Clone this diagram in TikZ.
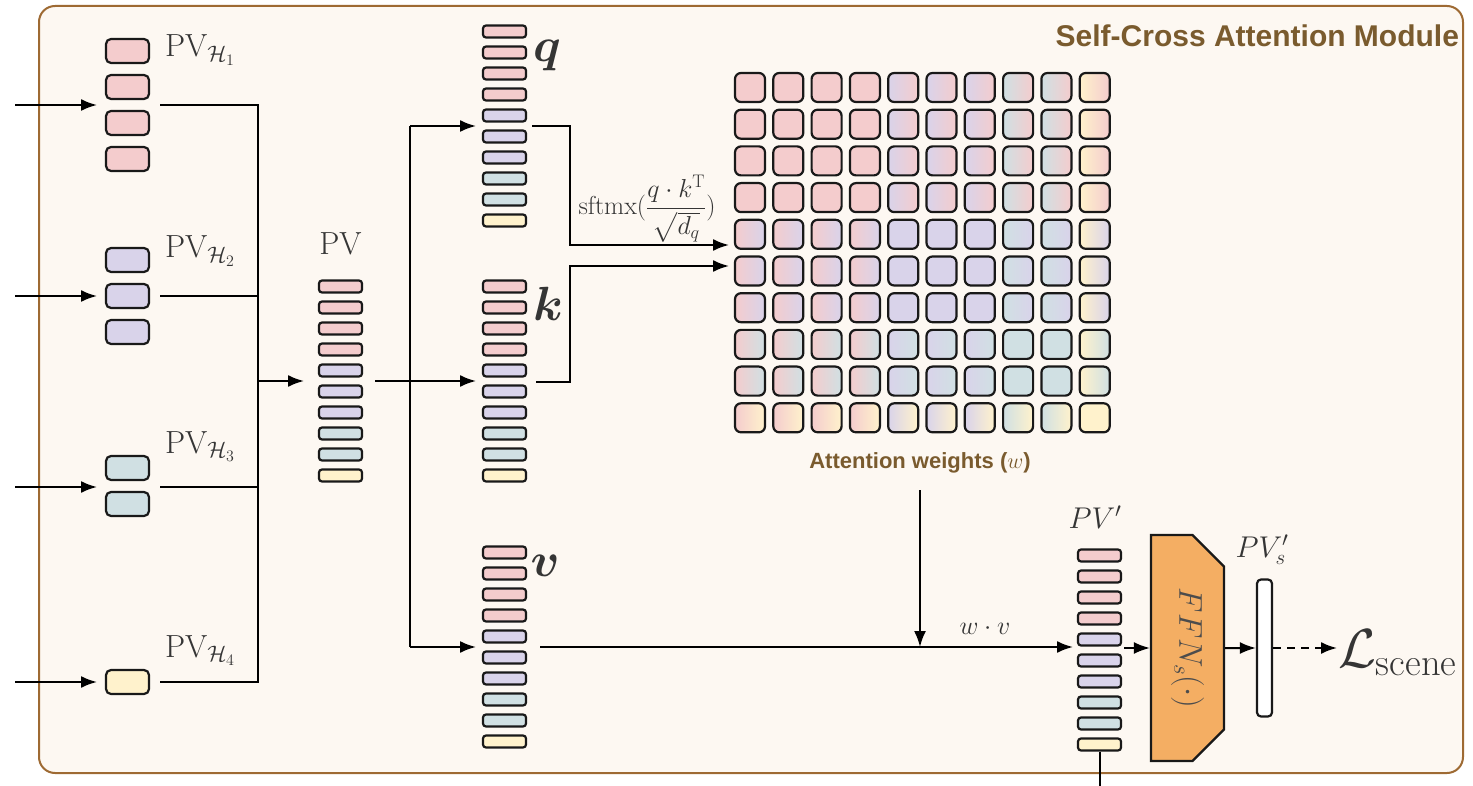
\RequirePackage{fix-cm}
\documentclass[tikz,border=0pt]{standalone}
\usepackage{amsmath,bm}
\usepackage{fontspec}
\setsansfont{Liberation Sans}
\usetikzlibrary{arrows.meta,shapes.misc}

\definecolor{hpink}{HTML}{F4CCCD}
\definecolor{hpurple}{HTML}{D9D3EA}
\definecolor{hteal}{HTML}{D0E0E3}
\definecolor{hyellow}{HTML}{FFF2CC}
\definecolor{modfill}{HTML}{FDF8F2}
\definecolor{modline}{HTML}{9E6A33}
\definecolor{modtext}{HTML}{7A5B2E}
\definecolor{ffnfill}{HTML}{F4AE63}
\definecolor{inkgray}{HTML}{353535}

\newcommand{\tokcolors}{hpink,hpink,hpink,hpink,hpurple,hpurple,hpurple,hteal,hteal,hyellow}

\begin{document}
\begin{tikzpicture}[x=1pt, y=-1pt, line width=2pt, >={Latex[length=16pt,width=12pt]},
    hbox/.style={draw=black!90, line width=2.2pt, rounded corners=5pt, minimum width=43pt, minimum height=24pt, inner sep=0pt},
    tok/.style={draw=black!90, line width=2.2pt, rounded corners=3pt, minimum width=43pt, minimum height=12pt, inner sep=0pt},
    cell/.style={draw=black!90, line width=2.2pt, rounded corners=6pt, minimum width=30pt, minimum height=29pt, inner sep=0pt},
    lbl/.style={text=inkgray, inner sep=0pt, font=\fontsize{32}{38}\selectfont},
    biglbl/.style={text=inkgray, inner sep=0pt, font=\fontsize{48}{56}\selectfont},
    modlbl/.style={text=modtext, inner sep=0pt, font=\sffamily\bfseries}]
\useasboundingbox (0,0) rectangle (1473,786);

% module frame
\draw[draw=modline, fill=modfill, line width=2pt, rounded corners=16pt] (39,6) rectangle (1463,773);
\node[modlbl, anchor=east, font=\sffamily\bfseries\fontsize{30}{34}\selectfont] (title) at (1460,36) {Self-Cross Attention Module};

% input heads
\foreach \i in {1,...,4}
  \node[hbox, fill=hpink] (h1-\i) at (127.5,{51+(\i-1)*36}) {};
\foreach \i in {1,2,3}
  \node[hbox, fill=hpurple] (h2-\i) at (127.5,{260+(\i-1)*36}) {};
\foreach \i in {1,2}
  \node[hbox, fill=hteal] (h3-\i) at (127.5,{468+(\i-1)*36}) {};
\node[hbox, fill=hyellow] (h4-1) at (127.5,682) {};

\node[lbl, anchor=base west] (h1-lbl) at (164,57) {$\mathrm{PV}_{\mathcal{H}_1}$};
\node[lbl, anchor=base west] (h2-lbl) at (164,258) {$\mathrm{PV}_{\mathcal{H}_2}$};
\node[lbl, anchor=base west] (h3-lbl) at (164,453) {$\mathrm{PV}_{\mathcal{H}_3}$};
\node[lbl, anchor=base west] (h4-lbl) at (164,657) {$\mathrm{PV}_{\mathcal{H}_4}$};

\coordinate (h1-src) at (15,105);  \coordinate (h1-in) at (97,105);  \coordinate (h1-out) at (160,105);
\coordinate (h2-src) at (15,296);  \coordinate (h2-in) at (97,296);  \coordinate (h2-out) at (160,296);
\coordinate (h3-src) at (15,487);  \coordinate (h3-in) at (97,487);  \coordinate (h3-out) at (160,487);
\coordinate (h4-src) at (15,682);  \coordinate (h4-in) at (97,682);  \coordinate (h4-out) at (160,682);
\coordinate (bus-top) at (258,105);
\coordinate (bus-bot) at (258,682);

\draw[->] (h1-src) -- (h1-in);
\draw[->] (h2-src) -- (h2-in);
\draw[->] (h3-src) -- (h3-in);
\draw[->] (h4-src) -- (h4-in);
\draw (h1-out) -- (bus-top) -- (bus-bot) -- (h4-out);
\draw (h2-out) -- (h2-out -| bus-top);
\draw (h3-out) -- (h3-out -| bus-top);

% concatenated PV
\foreach \c [count=\i] in \tokcolors
  \node[tok, fill=\c] (pv-\i) at (340.5,{381+(\i-5.5)*21}) {};
\node[lbl, anchor=base] (pv-lbl) at (340.5,255) {$\mathrm{PV}$};
\coordinate (pv-in) at (304,381);
\coordinate (pv-out) at (375,381);
\draw[->] (bus-top |- pv-in) -- (pv-in);

% q, k, v
\foreach \c [count=\i] in \tokcolors {
  \node[tok, fill=\c] (q-\i) at (504.5,{126+(\i-5.5)*21}) {};
  \node[tok, fill=\c] (k-\i) at (504.5,{381+(\i-5.5)*21}) {};
  \node[tok, fill=\c] (v-\i) at (504.5,{647+(\i-5.5)*21}) {};
}
\node[biglbl] (q-lbl) at (547,56) {$\bm{q}$};
\node[biglbl] (k-lbl) at (548,304) {$\bm{k}$};
\node[biglbl] (v-lbl) at (545,566) {$\bm{v}$};

\coordinate (split-top) at (410,126);
\coordinate (split-bot) at (410,647);
\coordinate (q-in) at (476,126);
\coordinate (k-in) at (476,381);
\coordinate (v-in) at (476,647);
\draw (split-top) -- (split-bot);
\draw[->] (split-top) -- (q-in);
\draw[->] (pv-out) -- (k-in);
\draw[->] (split-bot) -- (v-in);

% attention weights
\foreach \rc [count=\i] in \tokcolors {
  \foreach \cc [count=\j] in \tokcolors {
    \node[cell, left color=\cc, right color=\rc] (w-\i-\j) at ({750+(\j-1)*38.3},{87.5+(\i-1)*36.7}) {};
  }
}
\node[modlbl, font=\sffamily\bfseries\fontsize{22}{26}\selectfont] (att-lbl) at (920,463) {Attention weights ($w$)};

\coordinate (q-out) at (532,126);
\coordinate (q-bend) at (570,245);
\coordinate (att-q) at (729,245);
\coordinate (k-out) at (536,382);
\coordinate (k-bend) at (570,266);
\coordinate (att-k) at (729,266);
\draw[->] (q-out) -| (q-bend) -- (att-q);
\draw[->] (k-out) -| (k-bend) -- (att-k);
\node[text=inkgray, inner sep=0pt, font=\fontsize{26}{30}\selectfont] (sm-lbl) at (647,209) {$\mathrm{sftmx}(\dfrac{q\cdot k^{\mathrm{T}}}{\sqrt{d_q}})$};

% weighted sum
\coordinate (att-out) at (920,490);
\coordinate (wv-join) at (920,647);
\coordinate (v-out) at (540,647);
\coordinate (pvo-in) at (1073,647);
\draw[->] (att-out) -- (wv-join);
\draw[->] (v-out) -- (pvo-in);
\node[text=inkgray, inner sep=0pt, font=\fontsize{26}{30}\selectfont] (wv-lbl) at (985,629) {$w\cdot v$};

% output stack and FFN
\foreach \c [count=\i] in \tokcolors
  \node[tok, fill=\c] (pvo-\i) at (1099.5,{650+(\i-5.5)*21}) {};
\node[lbl, anchor=base, font=\fontsize{30}{36}\selectfont] (pvo-lbl) at (1095,528) {$PV'$};
\coordinate (pvo-out) at (1124,648);
\coordinate (pvo-down) at (1100,786);
\draw (pvo-10.south) -- (pvo-10.south |- pvo-down);

\node[chamfered rectangle, chamfered rectangle corners={north east,south east}, chamfered rectangle xsep=15pt, chamfered rectangle ysep=17pt,
      draw=black!90, fill=ffnfill, line width=2.2pt, minimum width=73pt, minimum height=226pt, inner sep=0pt] (ffn) at (1187.5,648)
      {\rotatebox{-90}{\color{black!70}\fontsize{33}{38}\selectfont$FFN_s(\cdot)$}};
\node[draw=black!90, fill=white, line width=2.2pt, rounded corners=4pt, minimum width=15pt, minimum height=137pt, inner sep=0pt] (pvs) at (1264.5,648) {};
\node[lbl, anchor=base, font=\fontsize{30}{36}\selectfont] (pvs-lbl) at (1262,557) {$PV'_s$};
\node[text=inkgray, anchor=base west, inner sep=0pt, font=\fontsize{55}{60}\selectfont] (loss) at (1337,667) {$\mathcal{L}_{\text{scene}}$};

\draw[->] (pvo-out) -- (pvo-out -| ffn.west);
\draw[->] (ffn) -- (pvs);
\draw[->, dash pattern=on 8pt off 6pt] (pvs.east) -- (pvs.east -| loss.west);
\end{tikzpicture}
\end{document}
